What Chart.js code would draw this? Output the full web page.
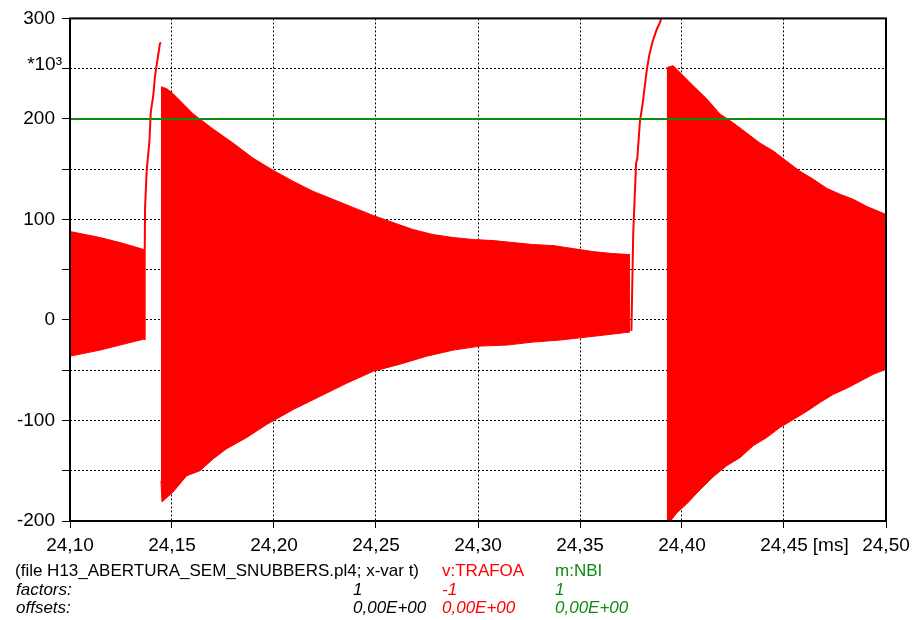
<!DOCTYPE html>
<html>
<head>
<meta charset="utf-8">
<title>v:TRAFOA</title>
<script src="https://cdn.jsdelivr.net/npm/chart.js@4.4.1/dist/chart.umd.min.js"></script>
<style>
  html, body { margin: 0; padding: 0; background: #fff; }
  #wrap { width: 924px; height: 620px; }
</style>
</head>
<body>
<div id="wrap"><canvas id="plot" width="924" height="620"></canvas></div>
<script>
// axis ticks (time in ms, voltage in *10^3)
const xTicks = [24.10, 24.15, 24.20, 24.25, 24.30, 24.35, 24.40, 24.45, 24.50];
const yTicks = [-200, -150, -100, -50, 0, 50, 100, 150, 200, 250, 300];
const yLabeled = [-200, -100, 0, 100, 200, 300];

// m:NBI level
const nbiLevel = [[24.10, 200], [24.50, 200]];

// v:TRAFOA - envelope of the fast oscillation [t, value]
const burst1Upper = [[24.1000, 88], [24.1147, 82], [24.1245, 77], [24.1363, 70]];
const burst1Lower = [[24.1000, -36], [24.1147, -30], [24.1245, -25], [24.1363, -19]];

const rise1 = [[24.1363, -19], [24.1366, 60], [24.1368, 112], [24.1376, 149], [24.1389, 177],
  [24.1396, 207], [24.1408, 223], [24.1417, 243], [24.1428, 258], [24.1441, 275], [24.1446, 276]];

const burst2Upper = [[24.1446, 232], [24.1475, 230], [24.1506, 225], [24.1604, 205], [24.1701, 190], [24.1799, 176],
  [24.1897, 161], [24.1995, 149], [24.2093, 138], [24.2191, 128], [24.2289, 120], [24.2387, 112],
  [24.2485, 104], [24.2583, 97], [24.2681, 90], [24.2779, 85], [24.2878, 82], [24.2976, 80],
  [24.3074, 79], [24.3172, 77], [24.3270, 75], [24.3368, 74], [24.3466, 71], [24.3564, 68],
  [24.3662, 66], [24.3745, 65]];
const burst2Lower = [[24.1446, -160], [24.1451, -181], [24.1506, -171], [24.1572, -155], [24.1637, -150],
  [24.1703, -138], [24.1768, -128], [24.1866, -117], [24.1964, -104], [24.2095, -89], [24.2226, -76],
  [24.2356, -63], [24.2487, -51], [24.2618, -44], [24.2749, -36], [24.2879, -30], [24.3010, -26],
  [24.3141, -25], [24.3271, -22], [24.3402, -20], [24.3533, -17], [24.3663, -14], [24.3745, -12]];

const rise2 = [[24.3752, -11], [24.3761, 87], [24.3775, 156], [24.3781, 161], [24.3794, 198],
  [24.3807, 215], [24.3814, 227], [24.3827, 248], [24.3840, 264], [24.3856, 277], [24.3876, 289],
  [24.3892, 296], [24.3903, 303], [24.3922, 303]];

const burst3Upper = [[24.3925, 251], [24.3957, 253], [24.4006, 243], [24.4055, 233], [24.4121, 220],
  [24.4186, 205], [24.4252, 196], [24.4317, 186], [24.4382, 176], [24.4448, 168], [24.4513, 158],
  [24.4578, 148], [24.4644, 140], [24.4709, 131], [24.4775, 125], [24.4840, 120], [24.4905, 113],
  [24.5000, 105]];
const burst3Lower = [[24.3925, -205], [24.3974, -192], [24.4023, -183], [24.4088, -169], [24.4153, -156],
  [24.4219, -145], [24.4284, -137], [24.4350, -125], [24.4415, -117], [24.4480, -107], [24.4546, -99],
  [24.4611, -91], [24.4677, -82], [24.4742, -74], [24.4807, -68], [24.4873, -61], [24.4938, -54],
  [24.5000, -49]];

// footer text
const fileLine = "(file H13_ABERTURA_SEM_SNUBBERS.pl4; x-var t)";
const rowLabels = ["factors:", "offsets:"];
const columns = [
  { name: "", factor: "1", offset: "0,00E+00", color: "#000" },
  { name: "v:TRAFOA", factor: "-1", offset: "0,00E+00", color: "#ff0000" },
  { name: "m:NBI", factor: "1", offset: "0,00E+00", color: "#118a11" }
];

const RED = "#ff0000";
const GREEN = "#118a11";
const FONT = "'Liberation Sans', Arial, sans-serif";

const pts = (arr) => arr.map(([x, y]) => ({ x, y }));

function line(data, opts = {}) {
  return Object.assign({
    data: pts(data),
    borderColor: RED,
    backgroundColor: RED,
    borderWidth: 1,
    pointRadius: 0,
    fill: false,
    tension: 0
  }, opts);
}

// frame, unit label and footer
const extras = {
  id: "extras",
  afterDatasetsDraw(chart) {
    const { ctx, chartArea: a } = chart;
    ctx.save();
    ctx.strokeStyle = "#000";
    ctx.lineWidth = 2;
    ctx.strokeRect(a.left, a.top, a.right - a.left, a.bottom - a.top);
    ctx.restore();
  },
  afterDraw(chart) {
    const { ctx, scales } = chart;
    ctx.save();
    ctx.fillStyle = "#000";
    ctx.font = "19px " + FONT;

    // *10^3 next to the 250 gridline
    ctx.textAlign = "right";
    ctx.textBaseline = "alphabetic";
    ctx.fillText("*10³", 62, scales.y.getPixelForValue(250) + 1);

    // [ms] after the 24,45 label
    ctx.textAlign = "left";
    ctx.textBaseline = "middle";
    const w = ctx.measureText("24,45").width;
    ctx.fillText("[ms]", scales.x.getPixelForValue(24.45) + w / 2 + 5, 546);

    const colX = [353, 442, 555];
    const rowY = [571, 590, 608];
    ctx.font = "17px " + FONT;
    ctx.fillText(fileLine, 15, rowY[0]);
    columns.forEach((c, i) => {
      ctx.fillStyle = c.color;
      ctx.font = "17px " + FONT;
      if (c.name) ctx.fillText(c.name, colX[i], rowY[0]);
      ctx.font = "italic 17px " + FONT;
      ctx.fillText(c.factor, colX[i], rowY[1]);
      ctx.fillText(c.offset, colX[i], rowY[2]);
    });
    ctx.fillStyle = "#000";
    ctx.font = "italic 17px " + FONT;
    rowLabels.forEach((t, i) => ctx.fillText(t, 16, rowY[i + 1]));
    ctx.restore();
  }
};

new Chart(document.getElementById("plot"), {
  type: "line",
  data: {
    datasets: [
      line(nbiLevel, { borderColor: GREEN, borderWidth: 2 }),
      line(rise1, { borderWidth: 2 }),
      line(rise2, { borderWidth: 2 }),
      line(burst1Lower),
      line(burst1Upper, { fill: "-1" }),
      line(burst2Lower),
      line(burst2Upper, { fill: "-1" }),
      line(burst3Lower),
      line(burst3Upper, { fill: "-1" })
    ]
  },
  options: {
    responsive: false,
    animation: false,
    devicePixelRatio: 1,
    layout: { padding: { top: 14, right: 38, left: 0, bottom: 0 } },
    plugins: { legend: { display: false }, tooltip: { enabled: false } },
    scales: {
      x: {
        type: "linear",
        min: 24.10,
        max: 24.50,
        afterBuildTicks: (s) => { s.ticks = xTicks.map((v) => ({ value: v })); },
        afterFit: (s) => { s.height = 99; },
        grid: { color: "#000", lineWidth: 1, tickLength: 7, tickColor: "#000", tickBorderDash: [] },
        border: { display: false, dash: [2, 2] },
        ticks: {
          color: "#000",
          font: { family: FONT, size: 19 },
          padding: 6,
          maxRotation: 0,
          autoSkip: false,
          callback: (v) => v.toFixed(2).replace(".", ",")
        }
      },
      y: {
        type: "linear",
        min: -200,
        max: 300,
        afterBuildTicks: (s) => { s.ticks = yTicks.map((v) => ({ value: v })); },
        afterFit: (s) => { s.width = 70; },
        grid: { color: "#000", lineWidth: 1, tickLength: 8, tickColor: "#000", tickBorderDash: [] },
        border: { display: false, dash: [2, 2] },
        ticks: {
          color: "#000",
          font: { family: FONT, size: 19 },
          padding: 7,
          autoSkip: false,
          callback: (v) => (yLabeled.includes(v) ? String(v) : "")
        }
      }
    }
  },
  plugins: [extras]
});
</script>
</body>
</html>
